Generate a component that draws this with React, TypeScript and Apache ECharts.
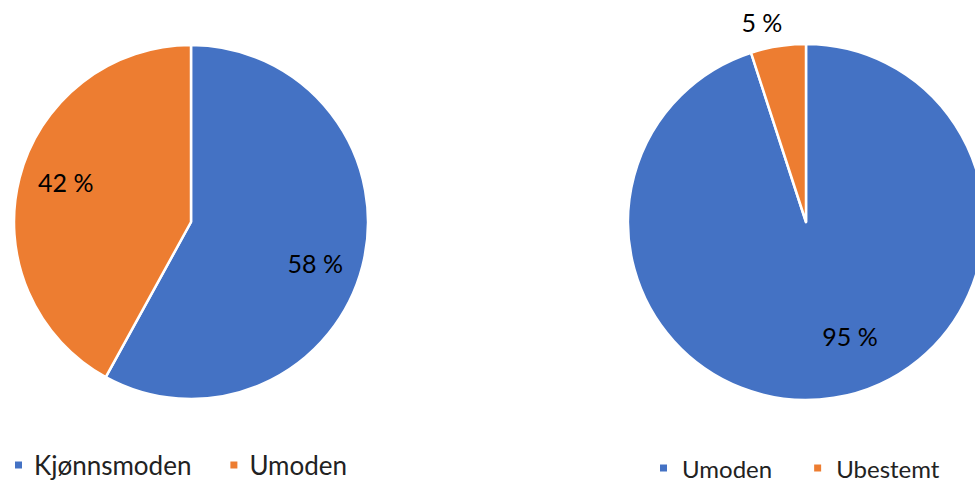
import React, { useEffect, useRef } from "react";
import * as echarts from "echarts";

const BLUE = "#4472C4";
const ORANGE = "#ED7D31";

const leftNames = ["Kjønnsmoden", "Umoden"];
const leftValues = [58, 42];
const rightNames = ["Umoden", "Ubestemt"];
const rightValues = [95, 5];

const FONT = "Lato, 'Noto Sans', sans-serif";

export default function App() {
  const ref = useRef<HTMLDivElement>(null);
  useEffect(() => {
    if (!ref.current) return;
    const chart = echarts.init(ref.current, undefined, { renderer: "svg" });
    const leftColors = [BLUE, ORANGE];
    const rightColors = [BLUE, ORANGE];
    const mk = (names: string[], values: number[], colors: string[]) =>
      names.map((n, i) => ({ name: n, value: values[i], itemStyle: { color: colors[i] } }));
    const labelStyle = {
      show: true,
      position: "inside",
      color: "#000",
      fontFamily: FONT,
      fontSize: 25,
      formatter: (p: any) => `${p.value} %`,
    };
    const leftOffsets = [[-6, 8], [5, -7]];
    const legendBase = {
      icon: "rect",
      itemWidth: 9,
      itemHeight: 9,
      itemGap: 37,
      padding: 0,
      selectedMode: false,
    };
    const option: any = {
      animation: false,
      backgroundColor: "#fff",
      legend: [
        {
          ...legendBase,
          left: 13,
          top: 452,
          textStyle: { fontFamily: FONT, fontSize: 26, lineHeight: 22, color: "#222", padding: [0, 0, 0, 6] },
          data: leftNames.map((n, i) => ({ name: n, itemStyle: { color: leftColors[i] } })),
        },
        {
          ...legendBase,
          left: 658,
          top: 456,
          itemGap: 40,
          textStyle: { fontFamily: FONT, fontSize: 24, lineHeight: 22, color: "#222", padding: [0, 0, 0, 9] },
          data: rightNames.map((n, i) => ({ name: n, itemStyle: { color: rightColors[i] } })),
        },
      ],
      series: [
        {
          type: "pie",
          center: [191, 222],
          radius: [0, 177],
          startAngle: 90,
          clockwise: true,
          avoidLabelOverlap: false,
          label: { show: false },
          labelLine: { show: false },
          itemStyle: { borderColor: "#fff", borderWidth: 2.5 },
          emphasis: { disabled: true },
          data: mk(leftNames, leftValues, leftColors),
        },
        {
          type: "pie",
          center: [806, 222],
          radius: [0, 178],
          startAngle: 90,
          clockwise: true,
          avoidLabelOverlap: false,
          label: { show: false },
          labelLine: { show: false },
          itemStyle: { borderColor: "#fff", borderWidth: 2.5 },
          emphasis: { disabled: true },
          data: mk(rightNames, rightValues, rightColors),
        },
        {
          type: "pie",
          center: [191, 222],
          radius: [86, 177],
          startAngle: 90,
          clockwise: true,
          silent: true,
          avoidLabelOverlap: false,
          label: labelStyle,
          labelLine: { show: false },
          emphasis: { disabled: true },
          data: leftNames.map((n, i) => ({
            name: n,
            value: leftValues[i],
            itemStyle: { color: "rgba(0,0,0,0)" },
            label: { offset: leftOffsets[i] },
          })),
        },
        {
          type: "pie",
          center: [806, 222],
          radius: [72, 178],
          startAngle: 90,
          clockwise: true,
          silent: true,
          avoidLabelOverlap: false,
          label: labelStyle,
          labelLine: { show: false },
          emphasis: { disabled: true },
          data: rightNames.map((n, i) => ({
            name: n,
            value: rightValues[i],
            itemStyle: { color: "rgba(0,0,0,0)" },
            label:
              i === 1
                ? { position: "outside", distanceToLabelLine: -8 }
                : { offset: [24, -12] },
            labelLine: i === 1 ? { show: false, length: 24, length2: 0 } : { show: false },
          })),
        },
      ],
    };
    chart.setOption(option);
    return () => chart.dispose();
  }, []);
  return (
    <div
      ref={ref}
      style={{ position: "absolute", left: 0, top: 0, width: 975, height: 483 }}
    />
  );
}
